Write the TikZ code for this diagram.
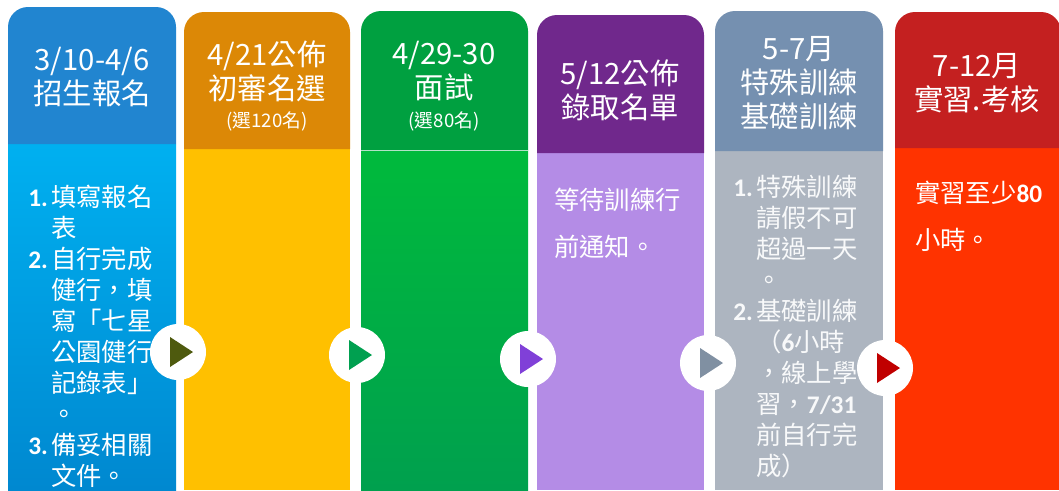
\documentclass[tikz,border=0pt]{standalone}
\usepackage{fontspec}
\setmainfont{Noto Sans CJK TC}
\newfontfamily\calibri{Carlito}
\usepackage{tikz}

\definecolor{headA}{HTML}{2185D0}
\definecolor{headB}{HTML}{DC8806}
\definecolor{headC}{HTML}{00A040}
\definecolor{headD}{HTML}{70288C}
\definecolor{headE}{HTML}{7590B0}
\definecolor{headF}{HTML}{C42020}
\definecolor{bodyAtop}{HTML}{00B0F0}
\definecolor{bodyAbot}{HTML}{0088D0}
\definecolor{bodyB}{HTML}{FFC000}
\definecolor{bodyCtop}{HTML}{00BA3C}
\definecolor{bodyCbot}{HTML}{00A04E}
\definecolor{bodyD}{HTML}{B48CE6}
\definecolor{bodyE}{HTML}{ADB5C0}
\definecolor{bodyF}{HTML}{FF3300}
\definecolor{triA}{HTML}{4E5A0E}
\definecolor{triB}{HTML}{00A050}
\definecolor{triC}{HTML}{8040D8}
\definecolor{triD}{HTML}{8090A2}
\definecolor{triE}{HTML}{C00000}

\newcommand\itemno[1]{\makebox[17.25pt][l]{\calibri\bfseries #1}}
\newcommand\cont{\hspace*{17.25pt}}
\newcommand\bnum[1]{{\calibri\bfseries #1}}

\begin{document}
\begin{tikzpicture}[x=0.75pt, y=-0.75pt,
		headtext/.style={align=center, text=white, inner sep=0, font=\fontsize{22}{25.5}\selectfont},
		bodytext/.style={align=left, text=white, inner sep=0, anchor=north west, font=\fontsize{19}{23.2}\selectfont},
		widetext/.style={bodytext, font=\fontsize{19}{35.2}\selectfont},
		hop/.style={circle, fill=white, inner sep=0, minimum size=42pt},
		play/.pic={\fill (-8,-15) -- (15,0) -- (-8,15) -- cycle;}]
	\useasboundingbox (0,0) rectangle (1059,490);
	\fill[white] (0,0) rectangle (1059,490);

	% Columns: body first, then the header with round top corners
	\fill[top color=bodyAtop, bottom color=bodyAbot] (8,144) rectangle (176,490);
	\fill[headA] (8,144) [rounded corners=15pt] -- (8,7) -- (176,7) [sharp corners] -- (176,144) -- cycle;
	\fill[bodyB] (184,149) rectangle (350,490);
	\fill[headB] (184,149) [rounded corners=15pt] -- (184,12) -- (350,12) [sharp corners] -- (350,149) -- cycle;
	\fill[top color=bodyCtop, bottom color=bodyCbot] (361,150) rectangle (528,490);
	\fill[headC] (361,150) [rounded corners=15pt] -- (361,11) -- (528,11) [sharp corners] -- (528,150) -- cycle;
	\draw[white!70!headC, line width=0.75pt] (361,150) -- (528,150);
	\fill[bodyD] (537,153) rectangle (704,490);
	\fill[headD] (537,153) [rounded corners=15pt] -- (537,15) -- (704,15) [sharp corners] -- (704,153) -- cycle;
	\fill[bodyE] (715,151) rectangle (883,490);
	\fill[headE] (715,151) [rounded corners=15pt] -- (715,11) -- (883,11) [sharp corners] -- (883,151) -- cycle;
	\fill[bodyF] (895,148) rectangle (1061,490);
	\fill[headF] (895,148) [rounded corners=15pt] -- (895,12) -- (1061,12) [sharp corners] -- (1061,148) -- cycle;

	% Header texts
	\node[headtext] (headA) at (92,77) {3/10-4/6\\招生報名};
	\node[headtext] (headB) at (267,86) {4/21公佈\\初審名選\\[-4pt]{\fontsize{14}{16}\selectfont (選120名)}};
	\node[headtext] (headC) at (444,86) {4/29-30\\面試\\[-4pt]{\fontsize{14}{16}\selectfont (選80名)}};
	\node[headtext] (headD) at (620,90) {5/12公佈\\錄取名單};
	\node[headtext] (headE) at (799,83) {5-7月\\特殊訓練\\基礎訓練};
	\node[headtext] (headF) at (977,83) {7-12月\\實習.考核};

	% Body texts
	\node[bodytext] (bodyA) at (28,185) {\itemno{1.}填寫報名\\ \cont 表\\ \itemno{2.}自行完成\\ \cont 健行，填\\ \cont 寫「七星\\ \cont 公園健行\\ \cont 記錄表」\\ \cont 。\\ \itemno{3.}備妥相關\\ \cont 文件。};
	\node[widetext] (bodyD) at (554,188) {等待訓練行\\前通知。};
	\node[bodytext, text=white!92!bodyE] (bodyE) at (733,175) {\itemno{1.}特殊訓練\\ \cont 請假不可\\ \cont 超過一天\\ \cont 。\\ \itemno{2.}基礎訓練\\ \cont （\bnum{6}小時\\ \cont ，線上學\\ \cont 習，\bnum{7/31}\\ \cont 前自行完\\ \cont 成）};
	\node[widetext] (bodyF) at (915,181) {實習至少\bnum{80}\\小時。};

	% Step markers between the columns
	\node[hop] (hopA) at (178,352) {};
	\node[hop] (hopB) at (357,355) {};
	\node[hop] (hopC) at (528,359) {};
	\node[hop] (hopD) at (708,363) {};
	\node[hop] (hopE) at (885,368) {};
	\pic[fill=triA] at (hopA) {play};
	\pic[fill=triB] at (hopB) {play};
	\pic[fill=triC] at (hopC) {play};
	\pic[fill=triD] at (hopD) {play};
	\pic[fill=triE] at (hopE) {play};
\end{tikzpicture}
\end{document}
